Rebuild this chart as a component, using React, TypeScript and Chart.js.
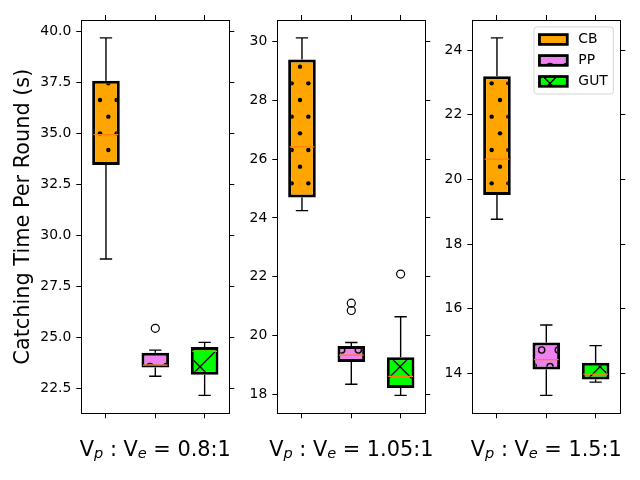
import React, { useEffect, useRef } from 'react'
import { Chart, registerables } from 'chart.js'

Chart.register(...registerables)

const groups = ['CB', 'PP', 'GUT']
const ratios = ['0.8:1', '1.05:1', '1.5:1']

// per group: whisker low, Q1, median, Q3, whisker high
const box08 = [
	[28.85, 33.46, 34.95, 37.6, 39.7],
	[23.1, 23.53, 23.65, 24.25, 24.38],
	[22.16, 23.17, 24.32, 24.54, 24.76],
]
const fliers08 = [[], [25.45], []]

const box105 = [
	[24.25, 24.7, 26.42, 29.39, 30.13],
	[18.34, 19.1, 19.33, 19.64, 19.76],
	[17.96, 18.21, 18.61, 19.26, 20.64],
]
const fliers105 = [[], [21.1, 20.85], [22.09]]

const box15 = [
	[18.77, 19.52, 20.63, 23.19, 24.38],
	[13.32, 14.12, 14.43, 14.96, 15.5],
	[13.73, 13.81, 13.98, 14.33, 14.86],
]
const fliers15 = [[], [], []]

const yTicks08 = [22.5, 25, 27.5, 30, 32.5, 35, 37.5, 40]
const yTicks105 = [18, 20, 22, 24, 26, 28, 30]
const yTicks15 = [14, 16, 18, 20, 22, 24]

const FONT = "'DejaVu Sans', sans-serif"
const FILLS = ['#ffa500', '#ee82ee', '#00ff00']
const HATCHES = ['.', 'o', 'x']

Chart.defaults.font.family = FONT

// matplotlib-like hatch tile (100px unit, 6 rows)
function makeHatch(bg: string, kind: string): CanvasPattern {
	const c = document.createElement('canvas')
	c.width = 100
	c.height = 100
	const g = c.getContext('2d')!
	g.fillStyle = bg
	g.fillRect(0, 0, 100, 100)
	g.strokeStyle = '#000'
	g.fillStyle = '#000'
	g.lineWidth = 1.4
	const s = 100 / 6
	if (kind === 'x') {
		g.beginPath()
		for (let n = -6; n <= 6; n++) {
			const o = (n * 100) / 3
			g.moveTo(o - 10, -10)
			g.lineTo(o + 110, 110)
			g.moveTo(o - 10, 110)
			g.lineTo(o + 110, -10)
		}
		g.stroke()
	} else {
		for (let k = -1; k <= 7; k++) {
			for (let j = -1; j <= 7; j++) {
				const x = j * s + (k % 2 ? s / 2 : 0)
				const y = k * s
				g.beginPath()
				g.arc(x, y, kind === '.' ? 2.2 : 3.1, 0, Math.PI * 2)
				if (kind === '.') g.fill()
				else g.stroke()
			}
		}
	}
	return g.createPattern(c, 'repeat')!
}

const xLabelPlugin = (ratio: string) => ({
	id: 'xLabel',
	afterDraw(chart: Chart) {
		const { ctx, chartArea } = chart
		const big = 20.83
		const small = big * 0.7
		const reg = `${big}px ${FONT}`
		const sub = `italic ${small}px ${FONT}`
		const runs: [string, string, number][] = [
			['V', reg, 0],
			['p', sub, 2],
			[' : V', reg, 0],
			['e', sub, 2],
			[` = ${ratio}`, reg, 0],
		]
		ctx.save()
		let total = 0
		for (const [t, f] of runs) {
			ctx.font = f
			total += ctx.measureText(t).width
		}
		let x = (chartArea.left + chartArea.right) / 2 - total / 2
		const y = chartArea.bottom + 43
		ctx.fillStyle = '#000'
		ctx.textAlign = 'left'
		ctx.textBaseline = 'alphabetic'
		for (const [t, f, dy] of runs) {
			ctx.font = f
			ctx.fillText(t, x, y + dy)
			x += ctx.measureText(t).width
		}
		ctx.restore()
	},
})

const legendPlugin = (patterns: CanvasPattern[]) => ({
	id: 'boxLegend',
	afterDraw(chart: Chart) {
		const { ctx, chartArea } = chart
		const fs = 13.9
		ctx.save()
		ctx.font = `${fs}px ${FONT}`
		const textW = Math.max(...groups.map((g) => ctx.measureText(g).width))
		const pad = 0.4 * fs
		const handleW = 2 * fs
		const gap = 0.8 * fs
		const rowH = 14
		const spacing = 0.5 * fs
		const w = pad * 2 + handleW + gap + textW
		const h = pad * 2 + rowH * groups.length + spacing * (groups.length - 1)
		const x0 = chartArea.right - 0.5 * fs - w
		const y0 = chartArea.top + 0.5 * fs
		ctx.beginPath()
		ctx.roundRect(x0, y0, w, h, 2.8)
		ctx.fillStyle = 'rgba(255,255,255,0.8)'
		ctx.fill()
		ctx.strokeStyle = '#d6d6d6'
		ctx.lineWidth = 1
		ctx.stroke()
		groups.forEach((g, i) => {
			const cy = y0 + pad + rowH / 2 + i * (rowH + spacing)
			const hx = x0 + pad
			const hh = 0.7 * fs
			ctx.fillStyle = patterns[i]
			ctx.fillRect(hx, cy - hh / 2, handleW, hh)
			ctx.lineWidth = 2.8
			ctx.strokeStyle = '#000'
			ctx.strokeRect(hx, cy - hh / 2, handleW, hh)
			ctx.fillStyle = '#000'
			ctx.textAlign = 'left'
			ctx.textBaseline = 'middle'
			ctx.fillText(g, hx + handleW + gap, cy)
		})
		ctx.restore()
	},
})

interface PanelProps {
	box: number[][]
	fliers: number[][]
	yTicks: number[]
	decimals: number
	ratio: string
	left: number
	yTitle?: string
	legend?: boolean
}

const TOP = 20
const BOTTOM = 413.3
const WIDTH = 148

const Panel: React.FC<PanelProps> = ({ box, fliers, yTicks, decimals, ratio, left, yTitle, legend }) => {
	const chartRef = useRef<HTMLCanvasElement>(null)

	useEffect(() => {
		if (!chartRef.current) return
		const context = chartRef.current.getContext('2d')
		if (!context) return

		const patterns = FILLS.map((c, i) => makeHatch(c, HATCHES[i]))
		const pos = groups.map((_, i) => i + 1)
		const all = [...box.flat(), ...fliers.flat()]
		const lo = Math.min(...all)
		const hi = Math.max(...all)
		const m = (hi - lo) * 0.05

		const whiskers = box.flatMap(([wl, q1, , q3, wh], i) => [
			{ x: pos[i], y: wl },
			{ x: pos[i], y: q1 },
			{ x: pos[i], y: null },
			{ x: pos[i], y: q3 },
			{ x: pos[i], y: wh },
			{ x: pos[i], y: null },
		])
		const caps = box.flatMap(([wl, , , , wh], i) => [
			{ x: pos[i] - 0.125, y: wl },
			{ x: pos[i] + 0.125, y: wl },
			{ x: pos[i], y: null },
			{ x: pos[i] - 0.125, y: wh },
			{ x: pos[i] + 0.125, y: wh },
			{ x: pos[i], y: null },
		])
		const medians = box.flatMap(([, , med], i) => [
			{ x: pos[i] - 0.25, y: med },
			{ x: pos[i] + 0.25, y: med },
			{ x: pos[i], y: null },
		])
		const flierPts = fliers.flatMap((f, i) => f.map((y) => ({ x: pos[i], y })))

		const tickGrid = {
			drawOnChartArea: false,
			drawTicks: true,
			tickLength: 5,
			color: '#000',
			lineWidth: 1,
			offset: false,
		}
		const frame = { display: true, color: '#000', width: 1 }
		const xScale = (position: string) => ({
			type: 'linear',
			position,
			min: 0.5,
			max: 3.5,
			offset: false,
			grid: tickGrid,
			border: frame,
			ticks: { display: false },
			afterBuildTicks: (s: any) => {
				s.ticks = pos.map((value) => ({ value }))
			},
			afterFit: (s: any) => {
				s.height = 10
			},
		})
		const yBuild = (s: any) => {
			s.ticks = yTicks.map((value) => ({ value }))
		}

		const plugins: any[] = [xLabelPlugin(ratio)]
		if (legend) plugins.push(legendPlugin(patterns))

		const chart = new Chart(context, {
			type: 'bar',
			data: {
				datasets: [
					{
						type: 'bar',
						label: 'boxes',
						data: box.map(([, q1, , q3], i) => ({ x: pos[i], y: [q1, q3] })),
						backgroundColor: patterns,
						borderColor: '#000',
						borderWidth: 3,
						borderSkipped: false,
						barPercentage: 0.56,
						categoryPercentage: 1,
						order: 1,
					},
					{
						type: 'line',
						label: 'whiskers',
						data: whiskers,
						borderColor: '#000',
						borderWidth: 1.4,
						pointRadius: 0,
						spanGaps: false,
						order: 2,
					},
					{
						type: 'line',
						label: 'caps',
						data: caps,
						borderColor: '#000',
						borderWidth: 1.4,
						pointRadius: 0,
						spanGaps: false,
						order: 2,
					},
					{
						type: 'line',
						label: 'medians',
						data: medians,
						borderColor: '#ff7f0e',
						borderWidth: 1.2,
						pointRadius: 0,
						spanGaps: false,
						order: 0,
					},
					{
						type: 'scatter',
						label: 'fliers',
						data: flierPts,
						showLine: false,
						pointStyle: 'circle',
						pointRadius: 4,
						pointHoverRadius: 4,
						borderColor: '#000',
						backgroundColor: 'rgba(0,0,0,0)',
						borderWidth: 1.2,
						order: 0,
					},
				] as any,
			},
			options: {
				responsive: false,
				animation: false,
				events: [],
				layout: {
					padding: {
						left: 8,
						right: 640 - (left + WIDTH) - 10,
						top: TOP - 10,
						bottom: 480 - BOTTOM - 10,
					},
				},
				plugins: {
					legend: { display: false },
					tooltip: { enabled: false },
				},
				scales: {
					x: xScale('bottom'),
					xTop: xScale('top'),
					y: {
						type: 'linear',
						position: 'left',
						min: lo - m,
						max: hi + m,
						grid: tickGrid,
						border: frame,
						ticks: {
							color: '#000',
							font: { family: FONT, size: 13.9 },
							padding: 5,
							callback: (v: any) => Number(v).toFixed(decimals),
						},
						afterBuildTicks: yBuild,
						afterFit: (s: any) => {
							s.width = left - 8
						},
						title: {
							display: !!yTitle,
							text: yTitle || '',
							color: '#000',
							font: { family: FONT, size: 20.83 },
							padding: { top: 3, bottom: 0 },
						},
					},
					yRight: {
						type: 'linear',
						position: 'right',
						min: lo - m,
						max: hi + m,
						grid: tickGrid,
						border: frame,
						ticks: { display: false },
						afterBuildTicks: yBuild,
						afterFit: (s: any) => {
							s.width = 10
						},
					},
				} as any,
			},
			plugins,
		})

		return () => {
			chart.destroy()
		}
	}, [box, fliers, yTicks, decimals, ratio, left, yTitle, legend])

	return (
		<canvas
			ref={chartRef}
			width={640}
			height={480}
			style={{ position: 'absolute', left: 0, top: 0 }}
		/>
	)
}

export default function App() {
	useEffect(() => {
		document.body.style.margin = '0'
	}, [])

	return (
		<div style={{ position: 'relative', width: 640, height: 480, background: '#fff' }}>
			<Panel
				box={box08}
				fliers={fliers08}
				yTicks={yTicks08}
				decimals={1}
				ratio={ratios[0]}
				left={81.3}
				yTitle="Catching Time Per Round (s)"
			/>
			<Panel box={box105} fliers={fliers105} yTicks={yTicks105} decimals={0} ratio={ratios[1]} left={277.3} />
			<Panel box={box15} fliers={fliers15} yTicks={yTicks15} decimals={0} ratio={ratios[2]} left={472.3} legend />
		</div>
	)
}
